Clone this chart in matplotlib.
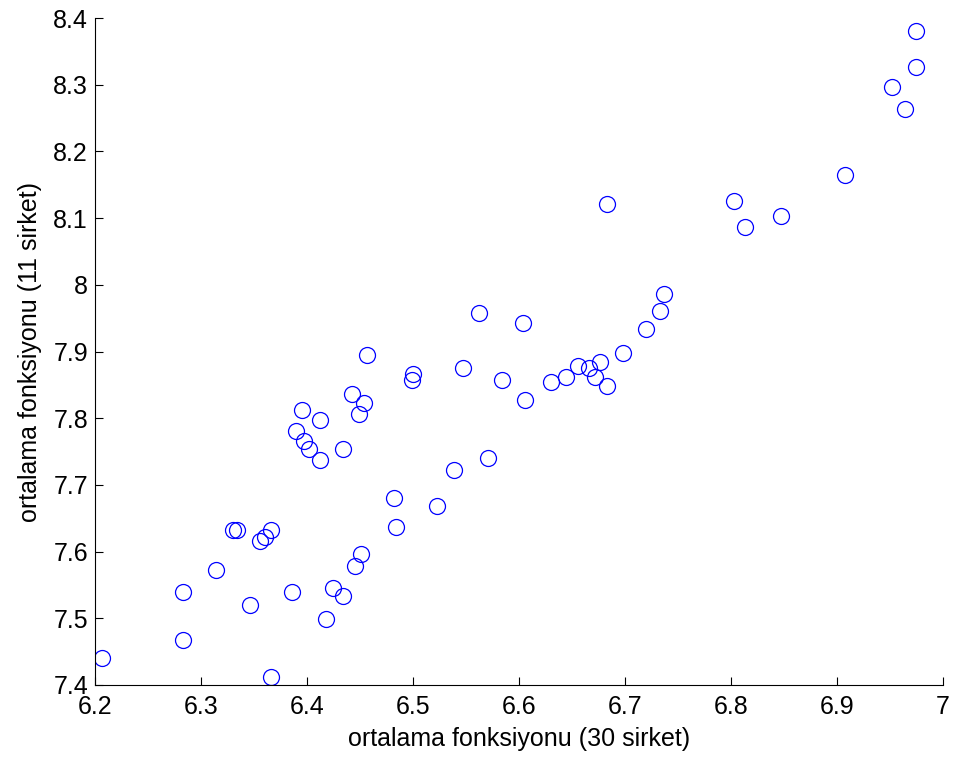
import numpy as np
import matplotlib.pyplot as plt

plt.rcParams['font.family'] = ['Liberation Sans', 'DejaVu Sans']

# ortalama fonksiyonu: 30 sirket (x) vs 11 sirket (y)
x30 = [6.207, 6.283, 6.283, 6.314, 6.346, 6.330, 6.334, 6.356, 6.360, 6.366,
       6.366, 6.386, 6.418, 6.425, 6.434, 6.445, 6.451, 6.482, 6.484,
       6.395, 6.412, 6.390, 6.397, 6.402, 6.412, 6.434, 6.449, 6.454, 6.442,
       6.457, 6.562, 6.604, 6.500, 6.499, 6.547, 6.584, 6.606, 6.630, 6.644,
       6.656, 6.666, 6.676, 6.672, 6.683, 6.698, 6.720, 6.733, 6.737,
       6.571, 6.539, 6.523,
       6.683, 6.803, 6.813, 6.847, 6.908, 6.975, 6.975, 6.952, 6.964]
y11 = [7.441, 7.467, 7.540, 7.572, 7.520, 7.632, 7.632, 7.616, 7.622, 7.632,
       7.412, 7.540, 7.499, 7.546, 7.534, 7.578, 7.596, 7.681, 7.637,
       7.813, 7.798, 7.781, 7.766, 7.754, 7.737, 7.754, 7.806, 7.823, 7.836,
       7.895, 7.957, 7.942, 7.867, 7.858, 7.875, 7.857, 7.827, 7.854, 7.862,
       7.878, 7.876, 7.884, 7.862, 7.848, 7.898, 7.933, 7.960, 7.986,
       7.740, 7.722, 7.669,
       8.121, 8.126, 8.086, 8.103, 8.165, 8.381, 8.326, 8.296, 8.264]

fig = plt.figure(figsize=(9.59, 7.58), dpi=100)
ax = fig.add_axes([95/959, 73/758, 848/959, 667/758])

ax.plot(x30, y11, 'o', linestyle='none', markersize=11.5, markerfacecolor='none',
        markeredgecolor='#0000ff', markeredgewidth=0.9)

ax.set_xlim(6.2, 7.0)
ax.set_ylim(7.4, 8.4)
ax.set_xticks(np.arange(6.2, 7.01, 0.1))
ax.set_xticklabels(['6.2', '6.3', '6.4', '6.5', '6.6', '6.7', '6.8', '6.9', '7'])
ax.set_yticks(np.arange(7.4, 8.41, 0.1))
ax.set_yticklabels(['7.4', '7.5', '7.6', '7.7', '7.8', '7.9', '8', '8.1', '8.2', '8.3', '8.4'])
ax.tick_params(direction='in', length=6, width=0.8, labelsize=18)
ax.tick_params(axis='x', pad=7)
ax.tick_params(axis='y', pad=5)
ax.spines['top'].set_visible(False)
ax.spines['right'].set_visible(False)

ax.set_xlabel('ortalama fonksiyonu (30 sirket)', fontsize=18, labelpad=6)
ax.set_ylabel('ortalama fonksiyonu (11 sirket)', fontsize=18, labelpad=8)

fig.savefig('out.png', dpi=100)
